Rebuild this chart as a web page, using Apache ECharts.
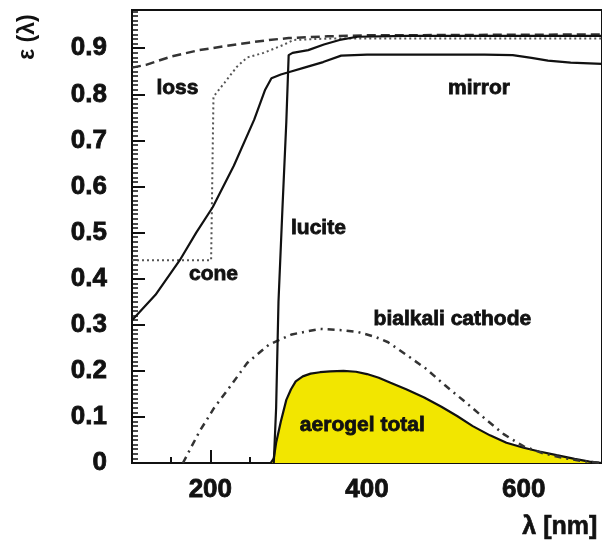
<!DOCTYPE html>
<html>
<head>
<meta charset="utf-8">
<script src="https://cdn.jsdelivr.net/npm/echarts@6/dist/echarts.min.js"></script>
<style>
  html, body { margin: 0; padding: 0; background: #fff; }
  #chart { width: 602px; height: 549px; }
</style>
</head>
<body>
<div id="chart"></div>
<script>
// wavelength (nm) / efficiency pairs
const mirrorX = [100, 130, 161, 182, 203, 230, 256, 270, 278, 290, 302, 320, 344, 367, 400, 450, 500, 550, 586, 610, 631, 660, 700]
const mirrorY = [0.31, 0.365, 0.44, 0.5, 0.555, 0.645, 0.745, 0.81, 0.835, 0.843, 0.849, 0.858, 0.87, 0.884, 0.886, 0.886, 0.886, 0.886, 0.885, 0.879, 0.873, 0.869, 0.866]

const luciteX = [281, 284, 287, 292, 297, 300, 305, 325, 345, 365, 388, 450, 550, 700]
const luciteY = [0, 0.12, 0.35, 0.55, 0.74, 0.885, 0.89, 0.896, 0.908, 0.918, 0.925, 0.927, 0.927, 0.927]

const coneX = [100, 201, 204, 218, 234, 247, 268, 293, 306, 350, 700]
const coneY = [0.44, 0.44, 0.795, 0.825, 0.86, 0.88, 0.89, 0.907, 0.918, 0.921, 0.921]

const lossX = [100, 118, 150, 186, 220, 249, 275, 300, 350, 400, 700]
const lossY = [0.858, 0.864, 0.882, 0.896, 0.905, 0.912, 0.918, 0.922, 0.926, 0.928, 0.93]

const cathodeX = [165, 186, 205, 227, 247, 275, 304, 340, 369, 389, 410, 427, 450, 475, 500, 525, 550, 575, 600, 625, 650, 676, 700]
const cathodeY = [0, 0.068, 0.12, 0.17, 0.217, 0.257, 0.279, 0.291, 0.288, 0.284, 0.274, 0.262, 0.235, 0.205, 0.168, 0.133, 0.097, 0.062, 0.036, 0.021, 0.011, 0.004, 0]

const aerogelX = [277, 281, 284, 290, 297, 303, 309, 318, 328, 340, 353, 370, 386, 400, 415, 430, 450, 473, 495, 515, 535, 557, 578, 600, 620, 642, 665, 684, 700]
const aerogelY = [0, 0.01, 0.044, 0.09, 0.137, 0.16, 0.177, 0.188, 0.194, 0.197, 0.199, 0.2, 0.198, 0.193, 0.185, 0.174, 0.16, 0.142, 0.122, 0.102, 0.08, 0.06, 0.044, 0.033, 0.025, 0.017, 0.009, 0.003, 0]

// curve labels: [x, y, text]
const curveLabels = [
  [158, 0.814, 'loss'],
  [204, 0.409, 'cone'],
  [338, 0.51, 'lucite'],
  [543, 0.814, 'mirror'],
  [509, 0.311, 'bialkali cathode'],
  [394, 0.083, 'aerogel total']
]

const xMajorTicks = [200, 400, 600]
const xMinorTicks = [150, 250, 300, 350, 450, 500, 550, 650]

const zip = (xs, ys) => xs.map((x, i) => [x, ys[i]])

const ink = '#111'
const font = '"Liberation Sans", Arial, sans-serif'
// heavier text, the scan is blurred and very bold
const heavy = { textBorderColor: ink, textBorderWidth: 0.8 }

const chart = echarts.init(document.getElementById('chart'), null, { renderer: 'canvas' })

const lineSeries = (name, xs, ys, lineStyle, extra) => Object.assign({
  name,
  type: 'line',
  data: zip(xs, ys),
  symbol: 'none',
  lineStyle: Object.assign({ color: ink, width: 2.2 }, lineStyle),
  z: 3
}, extra || {})

chart.setOption({
  animation: false,
  backgroundColor: '#fff',
  grid: {
    left: 132, top: 10, right: -3, bottom: 86,
    show: true, borderColor: ink, borderWidth: 2
  },
  xAxis: [{
    type: 'value', min: 100, max: 700, position: 'bottom',
    axisLine: { lineStyle: { color: ink, width: 2 } },
    axisTick: { inside: true, length: 13, customValues: xMajorTicks, lineStyle: { color: ink, width: 2 } },
    axisLabel: Object.assign({ customValues: xMajorTicks, margin: 14, color: ink, fontSize: 26, fontWeight: 'bold', fontFamily: font }, heavy),
    splitLine: { show: false }
  }, {
    type: 'value', min: 100, max: 700, position: 'bottom',
    axisLine: { show: false },
    axisTick: { inside: true, length: 6, customValues: xMinorTicks, lineStyle: { color: ink, width: 2 } },
    axisLabel: { show: false, customValues: xMinorTicks },
    splitLine: { show: false }
  }],
  yAxis: {
    type: 'value', min: 0, max: 0.983, interval: 0.1,
    axisLine: { lineStyle: { color: ink, width: 2 } },
    axisTick: { inside: true, length: 13, lineStyle: { color: ink, width: 2 } },
    minorTick: { show: true, splitNumber: 10, length: 6, lineStyle: { color: ink, width: 1.5 } },
    axisLabel: Object.assign({
      showMaxLabel: false, margin: 25, color: ink, fontSize: 26, fontWeight: 'bold', fontFamily: font,
      formatter: v => v === 0 ? '0' : v.toFixed(1)
    }, heavy),
    splitLine: { show: false }
  },
  graphic: [{
    type: 'text', left: 522, top: 514,
    style: { text: 'λ [nm]', fill: ink, font: 'bold 25px ' + font, stroke: ink, lineWidth: 0.6 }
  }, {
    type: 'text', x: 28, y: 37, rotation: Math.PI / 2,
    style: { text: 'ε (λ)', fill: ink, font: 'bold 23px ' + font, align: 'center', verticalAlign: 'middle' }
  }],
  series: [
    lineSeries('aerogel total', aerogelX, aerogelY, { width: 2.2 }, { areaStyle: { color: '#f2e600', opacity: 1 }, z: 2 }),
    lineSeries('bialkali cathode', cathodeX, cathodeY, { color: '#333', width: 2.5, type: [7, 5, 2, 5] }),
    lineSeries('loss', lossX, lossY, { color: '#333', width: 2.5, type: [9, 5] }),
    lineSeries('cone', coneX, coneY, { color: '#555', width: 2, type: [2, 3] }),
    lineSeries('lucite', luciteX, luciteY, {}),
    lineSeries('mirror', mirrorX, mirrorY, {}),
    {
      type: 'scatter',
      data: curveLabels.map(d => ({ value: [d[0], d[1]], name: d[2] })),
      symbolSize: 0,
      itemStyle: { opacity: 1 },
      z: 5,
      label: Object.assign({
        show: true, position: 'inside', formatter: p => p.name,
        color: ink, fontSize: 21, fontWeight: 'bold', fontFamily: font
      }, heavy)
    }
  ]
})
</script>
</body>
</html>
